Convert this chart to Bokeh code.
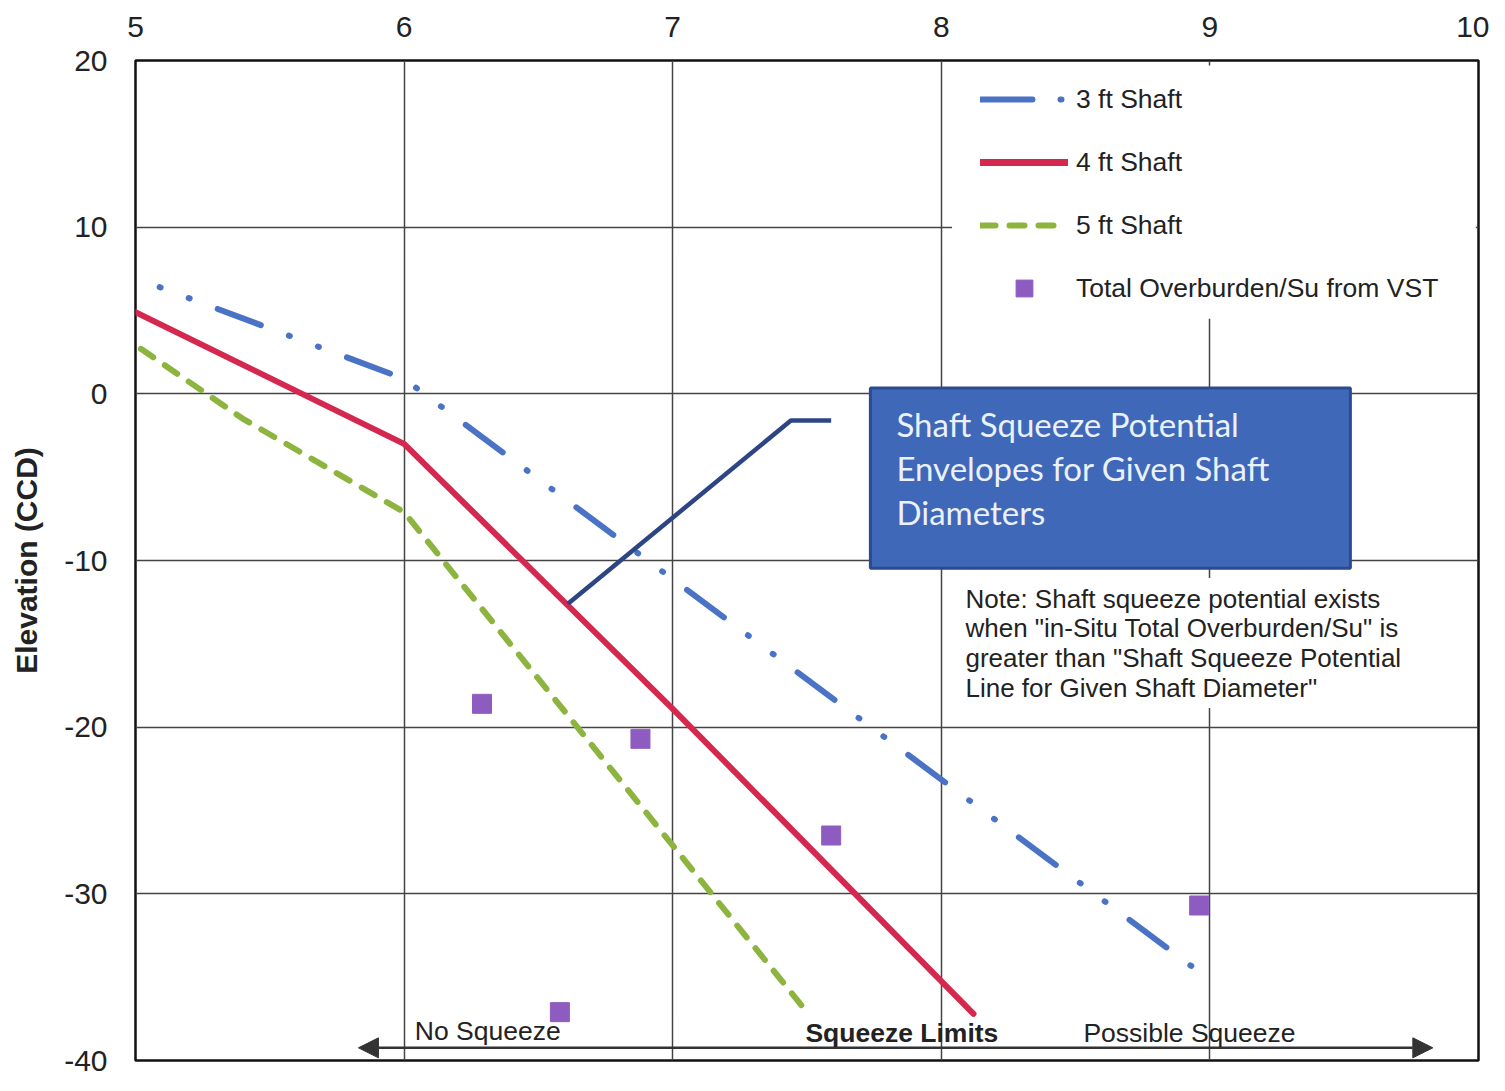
from bokeh.plotting import figure
from bokeh.models import (Range1d, FixedTicker, Legend, LegendItem, BoxAnnotation,
                          Arrow, NormalHead, Label, PrintfTickFormatter)
from bokeh.embed import file_html
from bokeh.resources import INLINE

# ---------------- data ----------------
x_ticks = [5, 6, 7, 8, 9, 10]
y_ticks = [-40, -30, -20, -10, 0, 10, 20]

shaft3_x = [5.09, 6.0, 8.97]
shaft3_y = [6.4, 0.9, -34.8]

shaft4_x = [5.0, 6.0, 7.0, 8.12]
shaft4_y = [4.9, -3.0, -18.9, -37.2]

shaft5_x = [5.02, 5.4, 6.0, 7.5]
shaft5_y = [2.7, -1.5, -7.1, -37.1]

vst_x = [6.29, 6.88, 7.59, 8.96, 6.58]
vst_y = [-18.6, -20.7, -26.5, -30.7, -37.1]

legend_labels = ["3 ft Shaft", "4 ft Shaft", "5 ft Shaft", "Total Overburden/Su from VST"]

callout_lines = ["Shaft Squeeze Potential", "Envelopes for Given Shaft", "Diameters"]
note_lines = ["Note: Shaft squeeze potential exists",
              'when "in-Situ Total Overburden/Su" is',
              'greater than "Shaft Squeeze Potential',
              'Line for Given Shaft Diameter"']
leader_x = [6.61, 7.44, 7.59]
leader_y = [-12.6, -1.6, -1.6]

# ---------------- colours ----------------
BLUE = "#4A73C6"
RED = "#D4284F"
GREEN = "#8DB43F"
PURPLE = "#8E5CC0"
BOX_FILL = "#3F68B8"
BOX_LINE = "#2C4A90"
LEADER = "#2E4585"
TXT = "#222222"
FONT = "Liberation Sans"

p = figure(width=1489, height=1075,
           x_range=Range1d(5, 10), y_range=Range1d(-40, 20),
           x_axis_location="above",
           output_backend="svg", toolbar_location=None,
           min_border_left=135, min_border_top=60,
           min_border_right=11, min_border_bottom=15)

p.background_fill_color = "white"
p.border_fill_color = "white"
p.outline_line_color = "#111111"
p.outline_line_width = 2.5

# axes
for ax in p.xaxis:
    ax.ticker = FixedTicker(ticks=x_ticks)
for ax in p.yaxis:
    ax.ticker = FixedTicker(ticks=y_ticks)
    ax.axis_label = "Elevation (CCD)"
    ax.axis_label_text_font = FONT
    ax.axis_label_text_font_style = "bold"
    ax.axis_label_text_font_size = "30px"
    ax.axis_label_text_color = TXT
    ax.axis_label_standoff = 18
for ax in list(p.xaxis) + list(p.yaxis):
    ax.formatter = PrintfTickFormatter(format="%d")
    ax.axis_line_color = None
    ax.major_tick_line_color = None
    ax.minor_tick_line_color = None
    ax.major_tick_out = 0
    ax.major_tick_in = 0
    ax.major_label_text_font = FONT
    ax.major_label_text_font_size = "30px"
    ax.major_label_text_color = TXT
p.xaxis.major_label_standoff = 24
p.yaxis.major_label_standoff = 28

# grid
p.xgrid.ticker = FixedTicker(ticks=x_ticks)
p.ygrid.ticker = FixedTicker(ticks=y_ticks)
for g in (p.xgrid, p.ygrid):
    g.grid_line_color = "#444444"
    g.grid_line_width = 1.5

# white area behind the legend (hides the grid like the original)
p.add_layout(BoxAnnotation(left=8.04, right=9.99, top=19.7, bottom=4.5,
                           fill_color="white", fill_alpha=1.0, line_color=None,
                           level="underlay"))

# series
r3 = p.line(shaft3_x, shaft3_y, line_color=BLUE, line_width=6,
            line_dash="46 30 1 30 1 30", line_dash_offset=76, line_cap="round")
r4 = p.line(shaft4_x, shaft4_y, line_color=RED, line_width=6, line_cap="round",
            line_join="round")
r5 = p.line(shaft5_x, shaft5_y, line_color=GREEN, line_width=6,
            line_dash="15 14", line_cap="round")
rv = p.scatter(vst_x, vst_y, marker="square", size=19, fill_color=PURPLE,
               line_color=PURPLE, line_width=1)

# leader line of callout
p.line(leader_x, leader_y, line_color=LEADER, line_width=4.5)

# hidden copies used only to draw the legend swatches
l3 = p.line(shaft3_x, shaft3_y, line_color=BLUE, line_width=6,
            line_dash="52 28 1 40", line_cap="round", visible=False)
l4 = p.line(shaft4_x, shaft4_y, line_color=RED, line_width=7, line_cap="round",
            visible=False)
l5 = p.line(shaft5_x, shaft5_y, line_color=GREEN, line_width=6,
            line_dash="15 14 15 14 15 100", line_cap="round", visible=False)
lv = p.scatter(vst_x, vst_y, marker="square", size=17, fill_color=PURPLE,
               line_color=PURPLE, visible=False)

legend = Legend(items=[LegendItem(label=legend_labels[0], renderers=[l3]),
                       LegendItem(label=legend_labels[1], renderers=[l4]),
                       LegendItem(label=legend_labels[2], renderers=[l5]),
                       LegendItem(label=legend_labels[3], renderers=[lv])],
                location=(845, 751))
legend.click_policy = "none"
legend.inactive_fill_alpha = 0.0
legend.glyph_width = 88
legend.glyph_height = 42
legend.label_height = 42
legend.label_standoff = 8
legend.spacing = 21
legend.padding = 0
legend.margin = 0
legend.border_line_color = None
legend.background_fill_alpha = 0.0
legend.label_text_font = FONT
legend.label_text_font_size = "26.5px"
legend.label_text_color = TXT
p.add_layout(legend)

# callout box
box = BoxAnnotation(left=7.736, right=9.523, top=0.35, bottom=-10.46,
                    fill_color=BOX_FILL, fill_alpha=1.0,
                    line_color=BOX_LINE, line_width=3, line_alpha=1.0)
p.add_layout(box)
line_gap = 2.62
for i, t in enumerate(callout_lines):
    p.add_layout(Label(x=7.833, y=-1.83 - i * line_gap, text=t,
                       text_font="Lato", text_font_size="33px",
                       text_color="#EAF1FB", text_baseline="middle", text_align="left"))

# note with white background
note_bg = BoxAnnotation(left=8.05, right=9.79, top=-11.05, bottom=-18.85,
                        fill_color="white", fill_alpha=1.0, line_color=None)
p.add_layout(note_bg)
note_gap = 1.78
for i, t in enumerate(note_lines):
    p.add_layout(Label(x=8.09, y=-12.29 - i * note_gap, text=t,
                       text_font=FONT, text_font_size="26px",
                       text_color=TXT, text_baseline="middle", text_align="left"))

# bottom arrow and labels
arrow = Arrow(start=NormalHead(size=20, fill_color="#333333", line_color="#333333"),
              end=NormalHead(size=20, fill_color="#333333", line_color="#333333"),
              x_start=5.83, y_start=-39.24, x_end=9.83, y_end=-39.24,
              line_color="#333333", line_width=2.5)
p.add_layout(arrow)
p.add_layout(Label(x=6.04, y=-38.2, text="No Squeeze", text_font=FONT,
                   text_font_size="26.5px", text_color=TXT, text_baseline="middle"))
p.add_layout(Label(x=7.494, y=-38.36, text="Squeeze Limits", text_font=FONT,
                   text_font_size="26.5px", text_font_style="bold", text_color=TXT,
                   text_baseline="middle"))
p.add_layout(Label(x=8.529, y=-38.36, text="Possible Squeeze", text_font=FONT,
                   text_font_size="26.5px", text_color=TXT, text_baseline="middle"))

open("out.html", "w").write(file_html(p, INLINE))
